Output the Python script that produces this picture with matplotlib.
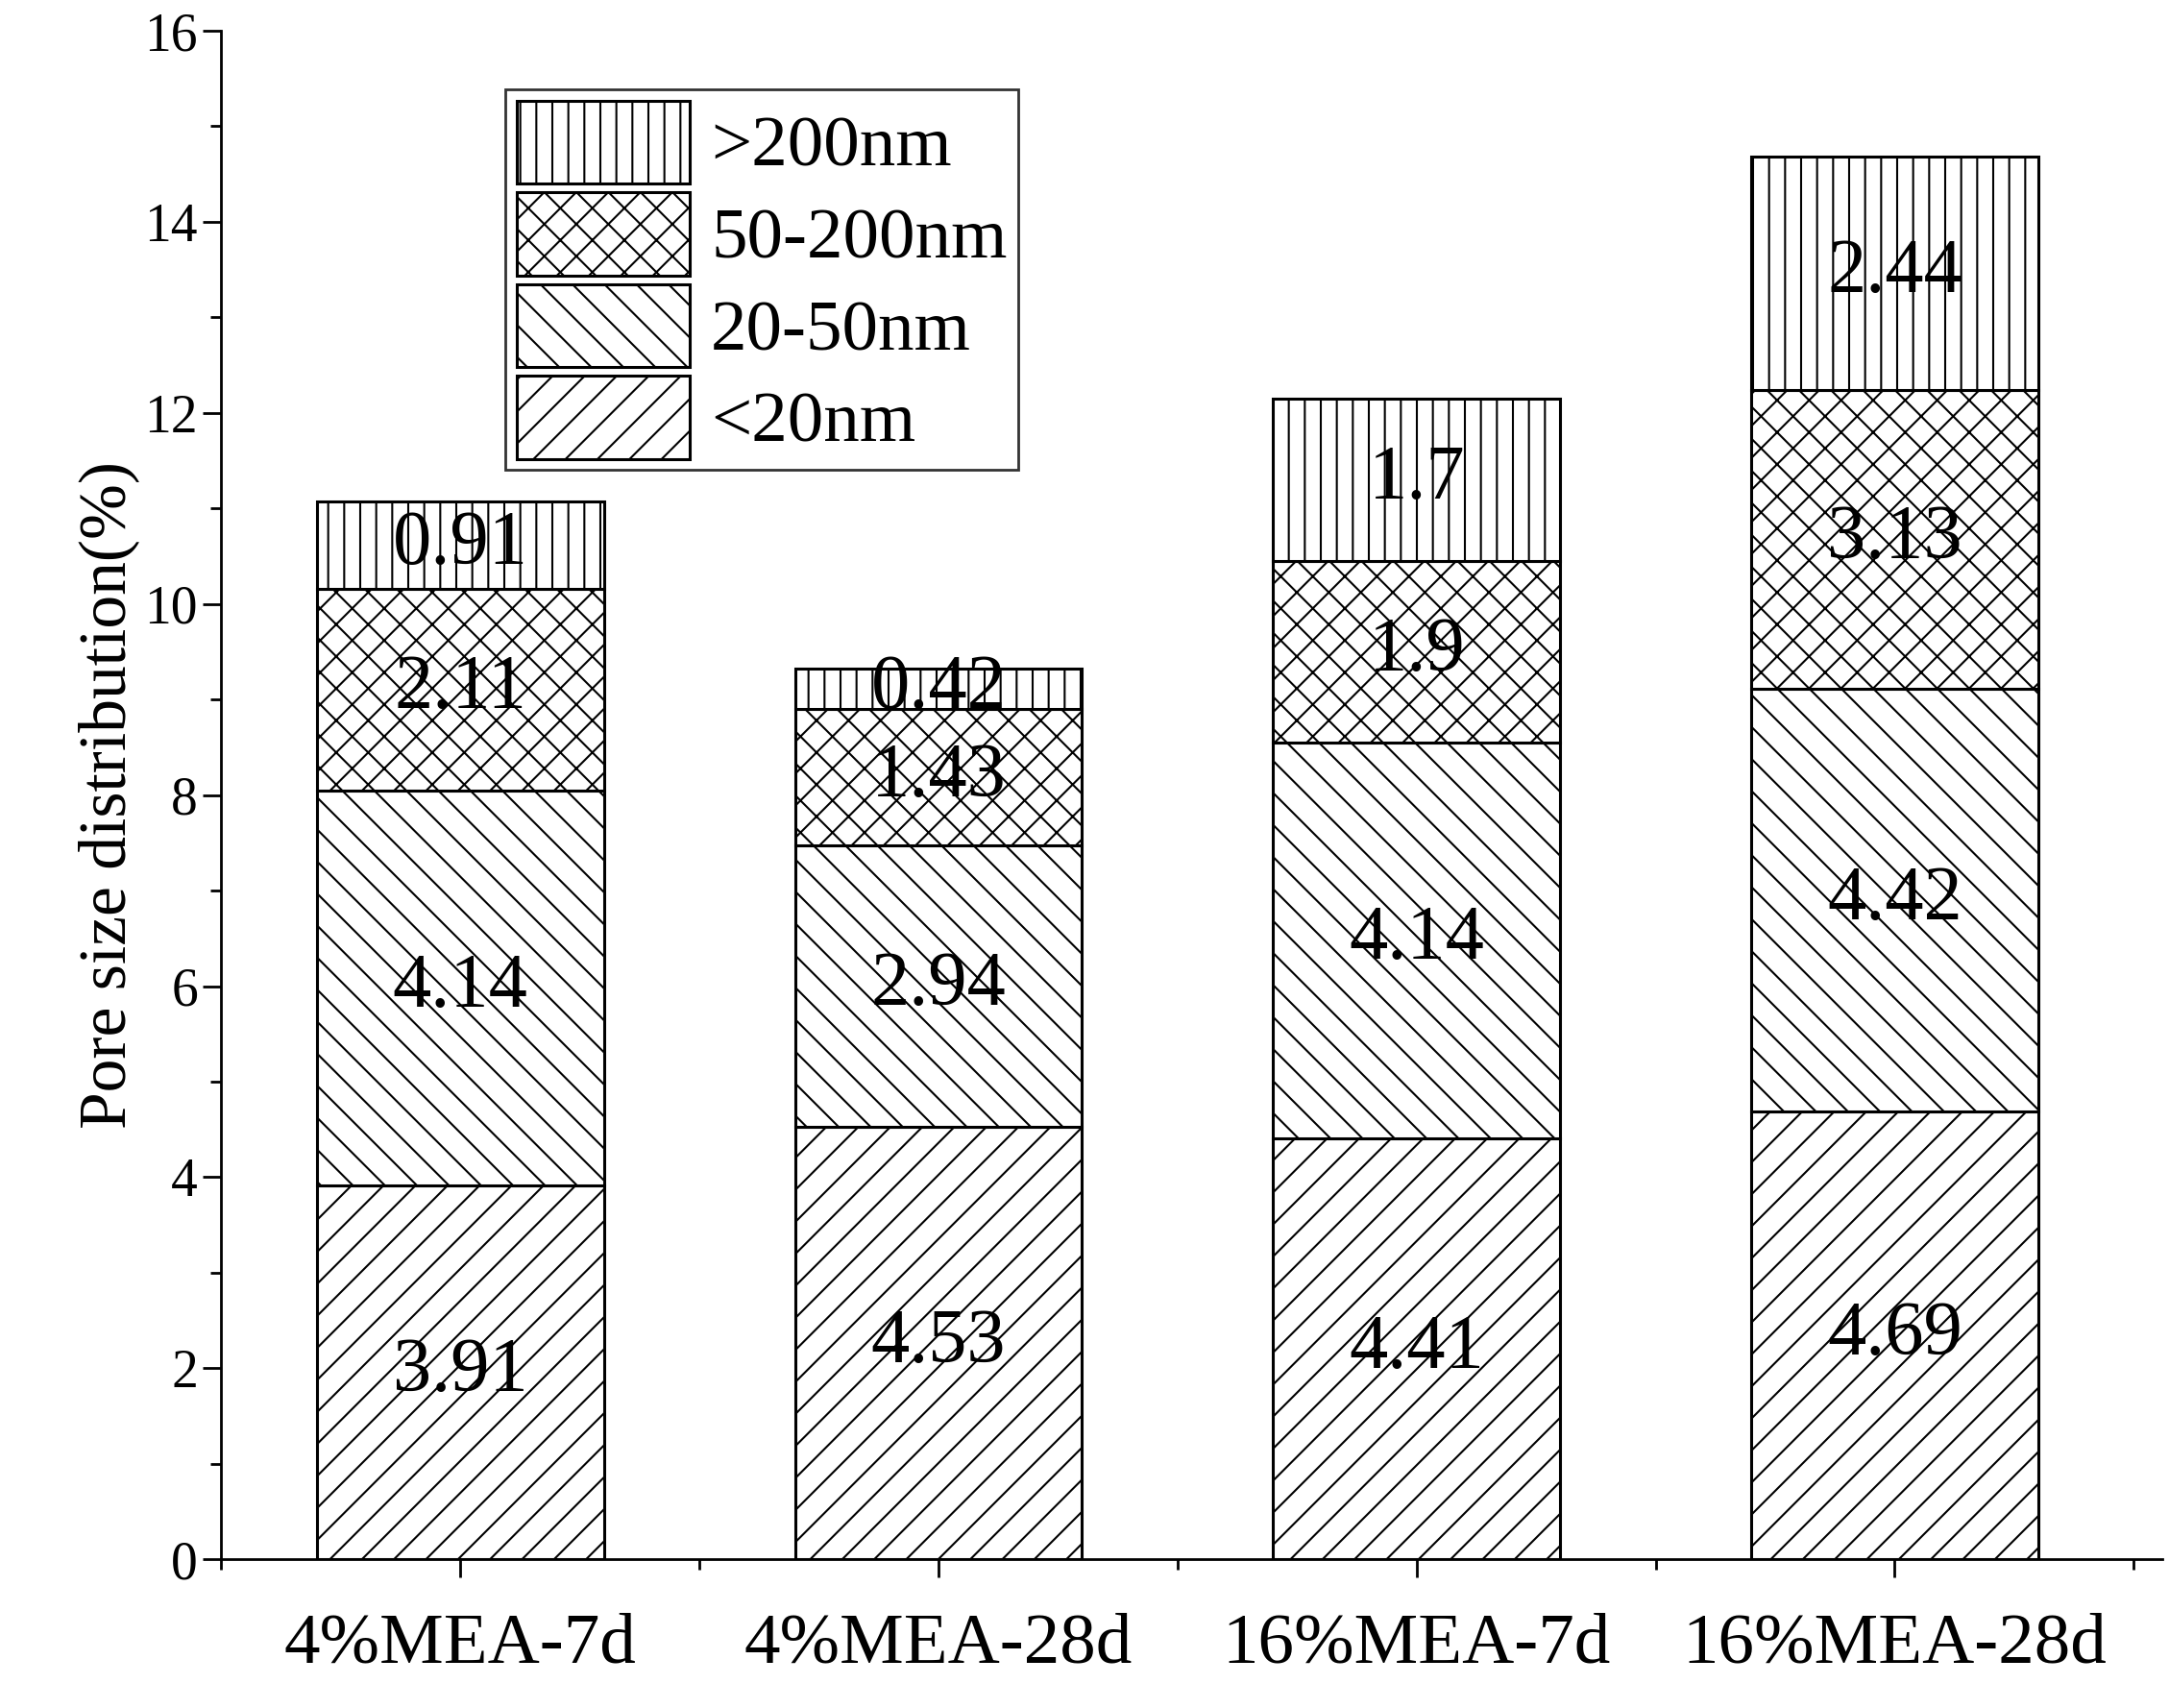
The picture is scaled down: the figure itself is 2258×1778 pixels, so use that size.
import matplotlib
matplotlib.use("Agg")
import matplotlib.pyplot as plt
import numpy as np
from matplotlib.ticker import MultipleLocator

categories = ["4%MEA-7d", "4%MEA-28d", "16%MEA-7d", "16%MEA-28d"]
series_names = ["<20nm", "20-50nm", "50-200nm", ">200nm"]
lt20 = [3.91, 4.53, 4.41, 4.69]
s20_50 = [4.14, 2.94, 4.14, 4.42]
s50_200 = [2.11, 1.43, 1.9, 3.13]
gt200 = [0.91, 0.42, 1.7, 2.44]
label_text = [["3.91", "4.53", "4.41", "4.69"],
              ["4.14", "2.94", "4.14", "4.42"],
              ["2.11", "1.43", "1.9", "3.13"],
              ["0.91", "0.42", "1.7", "2.44"]]
hatches = ["/", "\\", "x", "|"]

plt.rcParams['font.family'] = ['Liberation Serif', 'DejaVu Serif']
plt.rcParams['hatch.linewidth'] = 1.5
fig = plt.figure(figsize=(22.58, 17.78), dpi=100)
ax = fig.add_axes([0.102, 0.087, 0.895, 0.895])
x = np.arange(len(categories))
bottom = np.zeros(len(categories))
handles = []
for i, vals in enumerate([lt20, s20_50, s50_200, gt200]):
    vals = np.array(vals)
    b = ax.bar(x, vals, 0.6, bottom=bottom, color="white", edgecolor="black",
               hatch=hatches[i], linewidth=2.2, label=series_names[i])
    handles.append(b)
    for j in range(len(x)):
        ax.text(x[j], bottom[j] + vals[j] / 2, label_text[i][j], ha="center", va="center",
                fontsize=58)
    bottom += vals

ax.set_xlim(-0.49, 3.56)
ax.set_ylim(0, 16)
ax.set_xticks(x)
ax.set_xticklabels(categories, fontsize=54)
ax.set_xticks(np.arange(-0.5, 3.6, 0.5), minor=True)
ax.yaxis.set_major_locator(MultipleLocator(2))
ax.yaxis.set_minor_locator(MultipleLocator(1))
ax.tick_params(axis='y', which='major', labelsize=40, length=14, width=2, direction='out')
ax.tick_params(axis='y', which='minor', length=8, width=2, direction='out')
ax.tick_params(axis='x', which='major', length=14, width=2, direction='out', pad=26)
ax.tick_params(axis='x', which='minor', length=8, width=2, direction='out')
for s in ["top", "right"]:
    ax.spines[s].set_visible(False)
for s in ["left", "bottom"]:
    ax.spines[s].set_linewidth(2)
ax.set_ylabel("Pore size distribution(%)", fontsize=50, labelpad=4)

leg = ax.legend(handles[::-1], series_names[::-1], loc="upper left",
                bbox_to_anchor=(0.128, 0.985), fontsize=54, frameon=True,
                fancybox=False, edgecolor="black", handlelength=2.4, handleheight=1.4,
                labelspacing=0.12, borderpad=0.15, handletextpad=0.3)
leg.get_frame().set_linewidth(2)
fig.savefig("out.png", dpi=100)
